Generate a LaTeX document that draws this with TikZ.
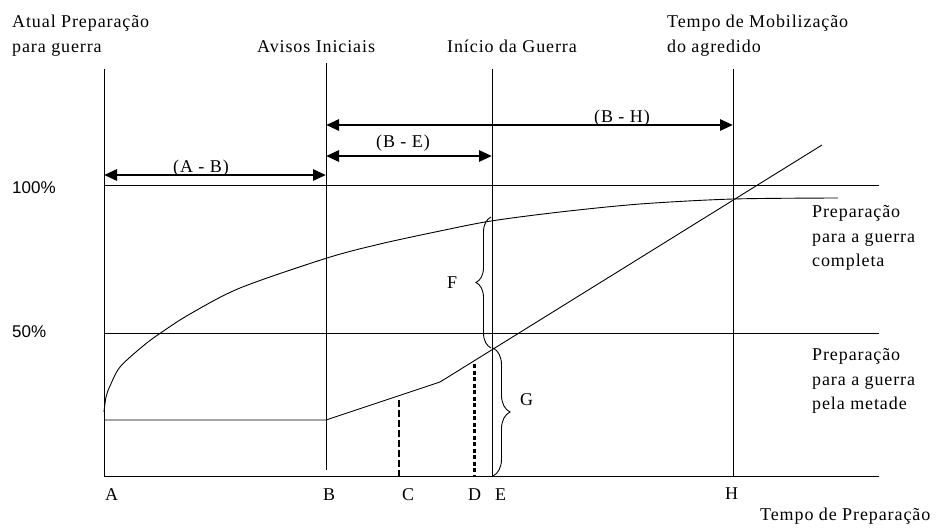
\documentclass[tikz,border=0pt]{standalone}
\usepackage{fontspec}
\setmainfont{Liberation Serif}[LetterSpace=5]
\newfontfamily\pctfont{Liberation Sans}
\usetikzlibrary{arrows.meta,decorations.pathreplacing}
\begin{document}
\begin{tikzpicture}[x=1pt,y=-1pt,
  every node/.style={inner sep=0pt,font=\fontsize{18}{22}\selectfont},
  lbl/.style={anchor=base west},
  pct/.style={anchor=base west,font=\pctfont\fontsize{17}{20}\selectfont},
  axisline/.style={line width=1pt},
  curve/.style={line width=0.9pt},
  dimarrow/.style={line width=2.8pt,{Triangle[length=13pt,width=11pt]}-{Triangle[length=13pt,width=11pt]}},
  bracestyle/.style={line width=0.9pt,decorate},
  dashC/.style={line width=2pt,dash pattern=on 7pt off 3pt},
  dashD/.style={line width=3pt,dash pattern=on 4pt off 2.5pt}]
\useasboundingbox[fill=white] (0,0) rectangle (938,528);
% key coordinates
\coordinate (Atop) at (104,69);  \coordinate (Abot) at (104,476);
\coordinate (Btop) at (326,63);  \coordinate (Bbot) at (326,470);
\coordinate (Etop) at (492,69);  \coordinate (Ebot) at (492,476);
\coordinate (Htop) at (733,69);  \coordinate (Hbot) at (733,476);
\coordinate (Xend) at (879,476);
\coordinate (P100a) at (104,185); \coordinate (P100b) at (879,185);
\coordinate (P50a) at (104,333);  \coordinate (P50b) at (879,333);
\coordinate (ABl) at (104,175); \coordinate (ABr) at (326,175);
\coordinate (BEl) at (326,156); \coordinate (BEr) at (492,156);
\coordinate (BHl) at (326,125); \coordinate (BHr) at (733,125);
\coordinate (L0) at (104,420); \coordinate (L1) at (326,420);
\coordinate (L2) at (440,382); \coordinate (L3) at (822,145);
\coordinate (Ctop) at (399,400); \coordinate (Cbot) at (399,476);
\coordinate (Dtop) at (474,364); \coordinate (Dbot) at (474,476);
\coordinate (Fbot) at (491,348); \coordinate (Ftop) at (491,217);
\coordinate (Gtop) at (493,348); \coordinate (Gbot) at (493,476);
% axes and grid lines
\draw[axisline] (Atop) -- (Abot) -- (Xend);
\draw[axisline] (Btop) -- (Bbot);
\draw[axisline] (Etop) -- (Ebot);
\draw[axisline] (Htop) -- (Hbot);
\draw[axisline] (P100a) -- (P100b);
\draw[axisline] (P50a) -- (P50b);
% dimension arrows
\draw[dimarrow] (ABl) -- (ABr);
\draw[dimarrow] (BEl) -- (BEr);
\draw[dimarrow] (BHl) -- (BHr);
% full preparation curve
\draw[curve] plot[smooth] coordinates {(104,412) (106,397) (110,386) (120,367) (143,346) (162,332) (190,314) (240,288) (327,258) (380,244) (440,231) (491,221) (560,212) (640,204) (733,199) (838,198)};
% half preparation line
\draw[curve] (L0) -- (L1) -- (L2) -- (L3);
% dashed lines
\draw[dashC] (Ctop) -- (Cbot);
\draw[dashD] (Dtop) -- (Dbot);
% braces
\draw[bracestyle,decoration={brace,amplitude=15pt}] (Fbot) -- (Ftop);
\draw[bracestyle,decoration={brace,amplitude=17pt}] (Gtop) -- (Gbot);
% texts
\node[lbl] (t1) at (12,27) {Atual Preparação};
\node[lbl] (t2) at (12,52) {para guerra};
\node[lbl] (t3) at (257,52) {Avisos Iniciais};
\node[lbl] (t4) at (447,52) {Início da Guerra};
\node[lbl] (t5) at (667,27) {Tempo de Mobilização};
\node[lbl] (t6) at (667,52) {do agredido};
\node[pct] (p100) at (12,193) {100\%};
\node[pct] (p50) at (12,337) {50\%};
\node[lbl] (r1) at (812,217) {Preparação};
\node[lbl] (r2) at (812,242) {para a guerra};
\node[lbl] (r3) at (812,266) {completa};
\node[lbl] (r4) at (812,360) {Preparação};
\node[lbl] (r5) at (812,385) {para a guerra};
\node[lbl] (r6) at (812,409) {pela metade};
\node[lbl] (la) at (105,500) {A};
\node[lbl] (lb) at (323,500) {B};
\node[lbl] (lc) at (402,500) {C};
\node[lbl] (ld) at (468,500) {D};
\node[lbl] (le) at (495,500) {E};
\node[lbl] (lh) at (725,499) {H};
\node[lbl] (tp) at (760,520) {Tempo de Preparação};
\node[anchor=base] (dab) at (201,172) {(A - B)};
\node[anchor=base] (dbe) at (403,147) {(B - E)};
\node[anchor=base] (dbh) at (622,122) {(B - H)};
\node[lbl] (lf) at (447,288) {F};
\node[lbl] (lg) at (520,405) {G};
\end{tikzpicture}
\end{document}
